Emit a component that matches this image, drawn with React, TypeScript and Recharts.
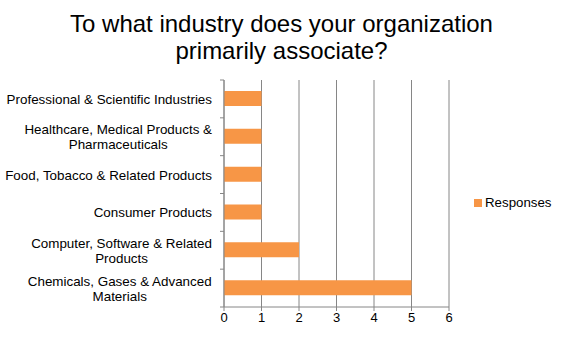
import { BarChart, Bar, XAxis, YAxis, CartesianGrid } from "recharts";

const INDUSTRIES = [
  "Professional & Scientific Industries",
  "Healthcare, Medical Products & Pharmaceuticals",
  "Food, Tobacco & Related Products",
  "Consumer Products",
  "Computer, Software & Related Products",
  "Chemicals, Gases & Advanced Materials",
];
// wrapped lines as shown on the axis
const TICK_LINES: Record<string, string[]> = {
  "Professional & Scientific Industries": ["Professional & Scientific Industries"],
  "Healthcare, Medical Products & Pharmaceuticals": ["Healthcare, Medical Products &", "Pharmaceuticals"],
  "Food, Tobacco & Related Products": ["Food, Tobacco & Related Products"],
  "Consumer Products": ["Consumer Products"],
  "Computer, Software & Related Products": ["Computer, Software & Related", "Products"],
  "Chemicals, Gases & Advanced Materials": ["Chemicals, Gases & Advanced", "Materials"],
};
const RESPONSES = [1, 1, 1, 1, 2, 5];
const X_TICKS = [0, 1, 2, 3, 4, 5, 6];

const FONT = "'Liberation Sans', Arial, sans-serif";
const BAR = "#F79646";
const AXIS = "#868686";
const LABEL_SIZE = 13.4;

const data = INDUSTRIES.map((name, i) => ({ name, value: RESPONSES[i] }));

let ctx: CanvasRenderingContext2D | null = null;
function textWidth(s: string) {
  if (!ctx) ctx = document.createElement("canvas").getContext("2d");
  if (!ctx) return s.length * 6.5;
  ctx.font = `${LABEL_SIZE}px ${FONT}`;
  return ctx.measureText(s).width;
}

function CatTick(props: any) {
  const { x, y, payload } = props;
  const lines = TICK_LINES[payload.value] ?? [payload.value];
  const band = 227 / INDUSTRIES.length;
  const startY = y - ((lines.length - 1) * 15) / 2 + 5;
  // lines of a wrapped label are centred inside a right-aligned block
  const blockW = Math.max(...lines.map(textWidth));
  const cx = x - blockW / 2;
  return (
    <g>
      <line x1={x + 8} x2={x + 12} y1={y - band / 2} y2={y - band / 2} stroke={AXIS} />
      {payload.index === INDUSTRIES.length - 1 && (
        <line x1={x + 8} x2={x + 12} y1={y + band / 2} y2={y + band / 2} stroke={AXIS} />
      )}
      {lines.map((l, i) => (
        <text key={i} x={cx} y={startY + i * 15} textAnchor="middle" fontSize={LABEL_SIZE} fontFamily={FONT} fill="#000">
          {l}
        </text>
      ))}
    </g>
  );
}

export default function App() {
  return (
    <div style={{ position: "relative", width: 563, height: 339, background: "#fff", fontFamily: FONT }}>
      <style>{"body{margin:0}"}</style>
      <div style={{ position: "absolute", top: 10, left: 0, width: 563, textAlign: "center", fontSize: 24, lineHeight: "27px", color: "#000" }}>
        To what industry does your organization
        <br />
        primarily associate?
      </div>
      <BarChart
        width={563}
        height={339}
        layout="vertical"
        data={data}
        margin={{ top: 80, right: 114, bottom: 8, left: 0 }}
        barCategoryGap={0}
      >
        <CartesianGrid horizontal={false} stroke={AXIS} />
        <XAxis
          type="number"
          domain={[0, 6]}
          ticks={X_TICKS}
          interval={0}
          height={24}
          stroke={AXIS}
          tickSize={4}
          tick={{ fill: "#000", fontSize: 13, fontFamily: FONT }}
        />
        <YAxis
          type="category"
          dataKey="name"
          width={224}
          stroke={AXIS}
          tickLine={false}
          tick={<CatTick />}
          tickMargin={6}
          interval={0}
        />
        <Bar dataKey="value" fill={BAR} barSize={15} isAnimationActive={false} />
      </BarChart>
      <div style={{ position: "absolute", left: 474, top: 195, display: "flex", alignItems: "center", fontSize: 13.3, color: "#000" }}>
        <span style={{ width: 8, height: 8, background: BAR, display: "inline-block", marginRight: 3 }} />
        Responses
      </div>
    </div>
  );
}
